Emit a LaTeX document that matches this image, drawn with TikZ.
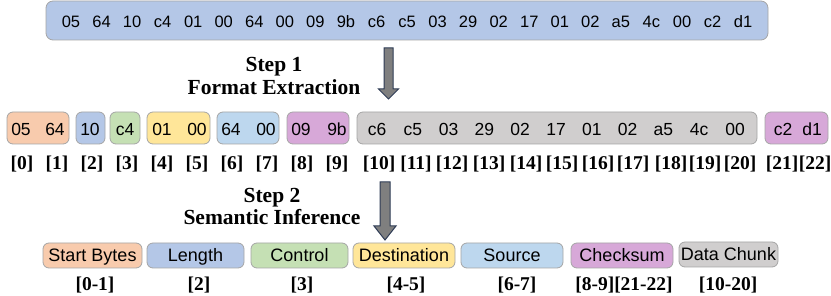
\documentclass[tikz,border=0pt]{standalone}
\usepackage{fontspec}
\setmainfont{Liberation Sans}
\newfontfamily\labfont{Liberation Serif}
\definecolor{csalmon}{HTML}{F8CBAD}
\definecolor{cblue}{HTML}{B4C7E7}
\definecolor{cgreen}{HTML}{C5E0B4}
\definecolor{cyellow}{HTML}{FFE699}
\definecolor{clblue}{HTML}{BDD7EE}
\definecolor{cpurple}{HTML}{D7A8D8}
\definecolor{cgray}{HTML}{D0CECE}
\definecolor{cborder}{HTML}{A5A5A5}
\definecolor{carrowfill}{HTML}{7F7F7F}
\definecolor{carrowline}{HTML}{2E3B55}
\begin{document}
\begin{tikzpicture}[x=1pt,y=-1pt,
  box/.style={draw=cborder, line width=0.8pt, rounded corners=6pt, inner sep=0pt},
  topbyte/.style={font=\fontsize{16.5}{19}\selectfont, inner sep=0pt, anchor=base},
  byte/.style={font=\fontsize{17.5}{20}\selectfont, inner sep=0pt, anchor=base},
  field/.style={font=\fontsize{18}{21}\selectfont, inner sep=0pt, anchor=base},
  idx/.style={font=\labfont\bfseries\fontsize{19.5}{22}\selectfont, inner sep=0pt, anchor=base},
  steptxt/.style={font=\labfont\bfseries\fontsize{21.5}{24}\selectfont, inner sep=0pt, anchor=base},
  blockarrow/.style={fill=carrowfill, draw=carrowline, line width=1pt, line join=miter}]
\useasboundingbox (0,0) rectangle (831,296);

% top message box
\node[box, rounded corners=7pt, fill=cblue, minimum width=722pt, minimum height=39pt] (msg) at (407,20.5) {};
\foreach \b [count=\i from 0] in {05,64,10,c4,01,00,64,00,09,9b,c6,c5,03,29,02,17,01,02,a5,4c,00,c2,d1}{
  \node[topbyte] (t\i) at (71+30.55*\i,27.5) {\b};
}

% step 1
\node[steptxt] (s1a) at (274,72) {Step 1};
\node[steptxt] (s1b) at (274,95) {Format Extraction};
\coordinate (a1top) at (388.5,48);
\draw[blockarrow] (a1top) ++(-4.5,0) -- ++(0,41) -- ++(-5.5,0) -- ++(10,10) -- ++(10,-10) -- ++(-5.5,0) -- ++(0,-41) -- cycle;

% field boxes
\node[box, fill=csalmon, minimum width=62pt, minimum height=32pt] (f0) at (38,128) {};
\node[box, fill=cblue, minimum width=29pt, minimum height=32pt] (f1) at (90.5,128) {};
\node[box, fill=cgreen, minimum width=30pt, minimum height=32pt] (f2) at (125,128) {};
\node[box, fill=cyellow, minimum width=63pt, minimum height=32pt] (f3) at (178.5,128) {};
\node[box, fill=clblue, minimum width=62pt, minimum height=32pt] (f4) at (248,128) {};
\node[box, fill=cpurple, minimum width=62pt, minimum height=32pt] (f5) at (318,128) {};
\node[box, fill=cgray, minimum width=400pt, minimum height=32pt] (f6) at (557,128) {};
\node[box, fill=cpurple, minimum width=63pt, minimum height=32pt] (f7) at (796.5,128) {};

\node[byte] (y0) at (21,135.5) {05};
\node[byte] (y1) at (55,135.5) {64};
\node[byte] (y2) at (90,135.5) {10};
\node[byte] (y3) at (125,135.5) {c4};
\node[byte] (y4) at (162,135.5) {01};
\node[byte] (y5) at (197,135.5) {00};
\node[byte] (y6) at (231,135.5) {64};
\node[byte] (y7) at (266,135.5) {00};
\node[byte] (y8) at (301,135.5) {09};
\node[byte] (y9) at (337,135.5) {9b};
\foreach \b [count=\k from 0] in {c6,c5,03,29,02,17,01,02,a5,4c,00}{
  \node[byte] (z\k) at (377+35.8*\k,135.5) {\b};
}
\node[byte] (y21) at (783,135.5) {c2};
\node[byte] (y22) at (812,135.5) {d1};

% indices
\foreach \x [count=\i from 0] in {22,57,92,127,162,197,232,267,302,337,379,416,452,489,526,562,598,633,671,705,740,782,815}{
  \node[idx] (i\i) at (\x,170) {[\i]};
}

% step 2
\node[steptxt] (s2a) at (272,203) {Step 2};
\node[steptxt] (s2b) at (272,225) {Semantic Inference};
\coordinate (a2top) at (385,182);
\draw[blockarrow] (a2top) ++(-5,0) -- ++(0,44) -- ++(-6,0) -- ++(11,14) -- ++(11,-14) -- ++(-6,0) -- ++(0,-44) -- cycle;

% semantic boxes
\node[box, fill=csalmon, minimum width=99pt, minimum height=25pt] (g0) at (92.5,255.5) {};
\node[box, fill=cblue, minimum width=97pt, minimum height=25pt] (g1) at (195.5,255.5) {};
\node[box, fill=cgreen, minimum width=97pt, minimum height=25pt] (g2) at (299.5,255.5) {};
\node[box, fill=cyellow, minimum width=102pt, minimum height=25pt] (g3) at (404,255.5) {};
\node[box, fill=clblue, minimum width=102pt, minimum height=25pt] (g4) at (512,255.5) {};
\node[box, fill=cpurple, minimum width=102pt, minimum height=25pt] (g5) at (622,255.5) {};
\node[box, fill=cgray, minimum width=99pt, minimum height=25pt] (g6) at (728.5,254.5) {};

\node[field] (n0) at (92.5,262) {Start Bytes};
\node[field] (n1) at (195.5,262) {Length};
\node[field] (n2) at (299.5,262) {Control};
\node[field] (n3) at (404,262) {Destination};
\node[field] (n4) at (512,262) {Source};
\node[field] (n5) at (622,262) {Checksum};
\node[field] (n6) at (728.5,261) {Data Chunk};

\node[idx] (r0) at (95,291) {[0-1]};
\node[idx] (r1) at (199,291) {[2]};
\node[idx] (r2) at (302,291) {[3]};
\node[idx] (r3) at (406,291) {[4-5]};
\node[idx] (r4) at (517,291) {[6-7]};
\node[idx] (r5) at (624,291) {[8-9][21-22]};
\node[idx] (r6) at (728,291) {[10-20]};
\end{tikzpicture}
\end{document}
